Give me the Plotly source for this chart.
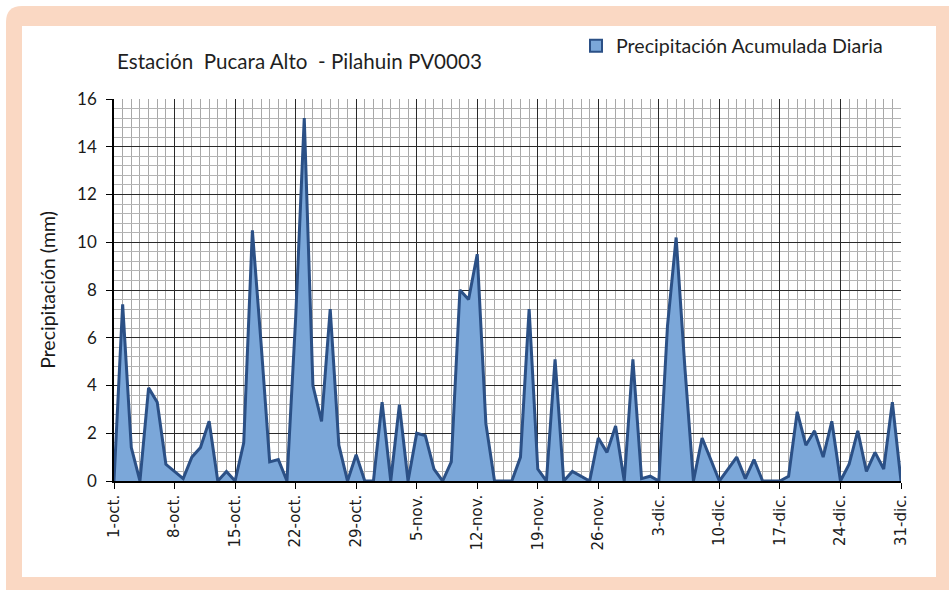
import plotly.graph_objects as go

# Daily accumulated rainfall (mm), 1 October - 31 December
day_index = list(range(92))
rain_mm = [
    0.0, 7.4, 1.4, 0.0, 3.9, 3.3, 0.7, 0.4, 0.1, 1.0,
    1.4, 2.5, 0.0, 0.4, 0.0, 1.6, 10.5, 5.8, 0.8, 0.9,
    0.0, 6.8, 15.2, 4.0, 2.5, 7.2, 1.5, 0.0, 1.1, 0.0,
    0.0, 3.3, 0.0, 3.2, 0.0, 2.0, 1.9, 0.5, 0.0, 0.8,
    8.0, 7.6, 9.5, 2.4, 0.0, 0.0, 0.0, 1.0, 7.2, 0.5,
    0.0, 5.1, 0.0, 0.4, 0.2, 0.0, 1.8, 1.2, 2.3, 0.0,
    5.1, 0.1, 0.2, 0.0, 6.5, 10.2, 4.8, 0.0, 1.8, 0.9,
    0.0, 0.5, 1.0, 0.1, 0.9, 0.0, 0.0, 0.0, 0.2, 2.9,
    1.5, 2.1, 1.0, 2.5, 0.0, 0.7, 2.1, 0.4, 1.2, 0.5,
    3.3, 0.0,
]

# Weekly tick labels
tick_days = list(range(0, 92, 7))
tick_labels = [
    "1-oct.", "8-oct.", "15-oct.", "22-oct.", "29-oct.", "5-nov.", "12-nov.",
    "19-nov.", "26-nov.", "3-dic.", "10-dic.", "17-dic.", "24-dic.", "31-dic.",
]

series_name = "Precipitación Acumulada Diaria"
chart_title = "Estación  Pucara Alto  - Pilahuin PV0003"
y_title = "Precipitación (mm)"

W, H = 949, 590
L, R, T, B = 114, 48, 99, 109
PW, PH = W - L - R, H - T - B


def fx(px):
    return (px - L) / PW


def fy(py):
    return (H - B - py) / PH


LINE = "#2B5086"
FILL = "#7BA7D9"
PEACH = "#FAD8C3"

fig = go.Figure()
fig.add_trace(go.Scatter(
    x=day_index, y=rain_mm, mode="lines", fill="tozeroy",
    line=dict(color=LINE, width=3), fillcolor=FILL,
    showlegend=False, hoverinfo="x+y",
))
# legend entry shown as a bordered square
fig.add_trace(go.Scatter(
    x=[None], y=[None], mode="markers", name=series_name,
    marker=dict(symbol="square", size=12, color=FILL, line=dict(color=LINE, width=2)),
))

# peach frame with rounded top-left corner, white panel inside
r = 16
x0, y0, x1, y1 = 6, 6, W + 30, H + 30
frame_path = (
    f"M {fx(x0)} {fy(y0 + r)} Q {fx(x0)} {fy(y0)} {fx(x0 + r)} {fy(y0)} "
    f"L {fx(x1)} {fy(y0)} L {fx(x1)} {fy(y1)} L {fx(x0)} {fy(y1)} Z"
)
shapes = [
    dict(type="path", path=frame_path, xref="paper", yref="paper",
         fillcolor=PEACH, line=dict(width=0), layer="below"),
    dict(type="rect", xref="paper", yref="paper",
         x0=fx(22), x1=fx(936), y0=fy(26), y1=fy(577),
         fillcolor="white", line=dict(width=0), layer="below"),
]

fig.update_layout(
    width=W, height=H, autosize=False,
    margin=dict(l=L, r=R, t=T, b=B),
    paper_bgcolor="white", plot_bgcolor="white",
    shapes=shapes,
    title=dict(
        text=chart_title, x=117 / W, xanchor="left", xref="container",
        y=1 - 62 / H, yanchor="middle", yref="container",
        font=dict(family="Lato", size=20.6, color="#1f1f1f"),
    ),
    legend=dict(
        x=fx(576), xanchor="left", y=fy(46), yanchor="middle",
        bgcolor="rgba(0,0,0,0)", font=dict(family="Lato", size=19.6, color="#1f1f1f"),
        itemsizing="constant",
    ),
    showlegend=True,
)

fig.update_xaxes(
    range=[0, 91], tickmode="array", tickvals=tick_days, ticktext=tick_labels,
    tickangle=-90, ticks="outside", ticklen=6, tickcolor="black",
    tickfont=dict(family="DejaVu Sans", size=15, color="#1a1a1a"),
    showline=True, linecolor="black", linewidth=1.5,
    showgrid=True, gridcolor="#2a2a2a", gridwidth=1,
    minor=dict(dtick=1, tick0=0, showgrid=True, gridcolor="#a8a8a8", gridwidth=1),
    zeroline=False, mirror=False,
)
fig.update_yaxes(
    range=[0, 16], dtick=2, tick0=0, ticks="outside", ticklen=6, tickcolor="black",
    tickfont=dict(family="Lato", size=17, color="#1a1a1a"), ticklabelstandoff=6,
    showline=True, linecolor="black", linewidth=1.5,
    showgrid=True, gridcolor="#2a2a2a", gridwidth=1,
    minor=dict(dtick=0.4, tick0=0, showgrid=True, gridcolor="#b4b4b4", gridwidth=1),
    zeroline=False,
    title=dict(text=y_title, font=dict(family="Lato", size=19.5, color="#1a1a1a"), standoff=16),
)

fig.write_html("out.html")
